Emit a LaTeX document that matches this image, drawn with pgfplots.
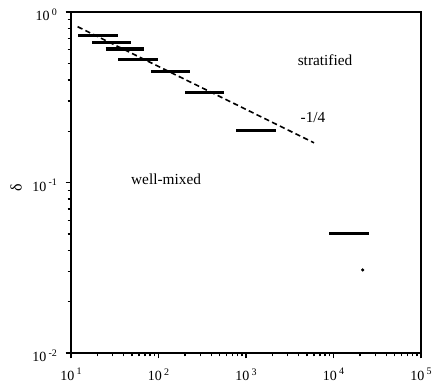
\documentclass[border=0pt]{standalone}
\usepackage{fontspec}
\setmainfont{Liberation Serif}
\usepackage{pgfplots}
\pgfplotsset{compat=1.18}
% power-of-ten tick label with a small raised exponent
\newcommand{\pw}[1]{10\,\raisebox{0.85ex}{\fontsize{7.5}{8}\selectfont #1}}

\begin{document}
\begin{tikzpicture}
\begin{axis}[
  xmode=log, ymode=log,
  scale only axis, width=262.5pt, height=255.75pt,
  xmin=10, xmax=1e5, ymin=1e-2, ymax=1,
  axis line style={line width=1.2pt},
  xtick={10,100,1000,10000,100000},
  xticklabels={\pw{1},\pw{2},\pw{3},\pw{4},\pw{5}},
  ytick={0.01,0.1,1},
  yticklabels={\pw{-2},\pw{-1},\pw{0}},
  minor xtick={20,30,40,50,60,70,80,90,200,300,400,500,600,700,800,900,
    2000,3000,4000,5000,6000,7000,8000,9000,20000,30000,40000,50000,60000,70000,80000,90000},
  minor ytick={0.02,0.03,0.04,0.05,0.06,0.07,0.08,0.09,0.2,0.3,0.4,0.5,0.6,0.7,0.8,0.9},
  xtick pos=bottom, ytick pos=left,
  tick align=outside,
  major tick length=4pt, minor tick length=2.5pt,
  every tick/.style={black, line width=1pt},
  tick label style={font=\fontsize{10.5}{11}\selectfont},
  xticklabel style={yshift=-4pt},
  yticklabel style={xshift=-3pt, yshift=-2pt},
  clip=false,
]
% binned values of delta
\addplot[black, line width=2.3pt] coordinates {(12.1,0.730) (34.8,0.730)};
\addplot[black, line width=2.3pt] coordinates {(17.5,0.661) (48.5,0.661)};
\addplot[black, line width=2.3pt] coordinates {(24.9,0.607) (68.9,0.607)};
\addplot[black, line width=2.3pt] coordinates {(34.8,0.528) (98,0.528)};
\addplot[black, line width=2.3pt] coordinates {(82,0.446) (229,0.446)};
\addplot[black, line width=2.3pt] coordinates {(201,0.336) (565,0.336)};
\addplot[black, line width=2.3pt] coordinates {(769,0.203) (2203,0.203)};
\addplot[black, line width=2.3pt] coordinates {(8890,0.0504) (25460,0.0504)};
\addplot[only marks, mark=*, mark size=1pt, black] coordinates {(21570,0.0307)};
% -1/4 power law
\addplot[black, line width=1.2pt, dash pattern=on 4pt off 2.5pt] coordinates {(11.9,0.820) (5985,0.171)};

\node[font=\fontsize{11.5}{13}\selectfont] at (axis cs:8000,0.523) {stratified};
\node[font=\fontsize{11.5}{13}\selectfont] at (axis cs:5830,0.239) {-1/4};
\node[font=\fontsize{11.5}{13}\selectfont] at (axis cs:122,0.105) {well-mixed};
\node[rotate=90, font=\fontsize{12}{13}\selectfont] at (rel axis cs:-0.157,0.484) {δ};

\coordinate (bl) at (rel axis cs:0,0);
\coordinate (tr) at (rel axis cs:1,1);
\end{axis}
\pgfresetboundingbox
\path[use as bounding box] ([shift={(-53.25pt,-22.5pt)}]bl) rectangle ([shift={(14.25pt,9pt)}]tr);
\end{tikzpicture}
\end{document}
